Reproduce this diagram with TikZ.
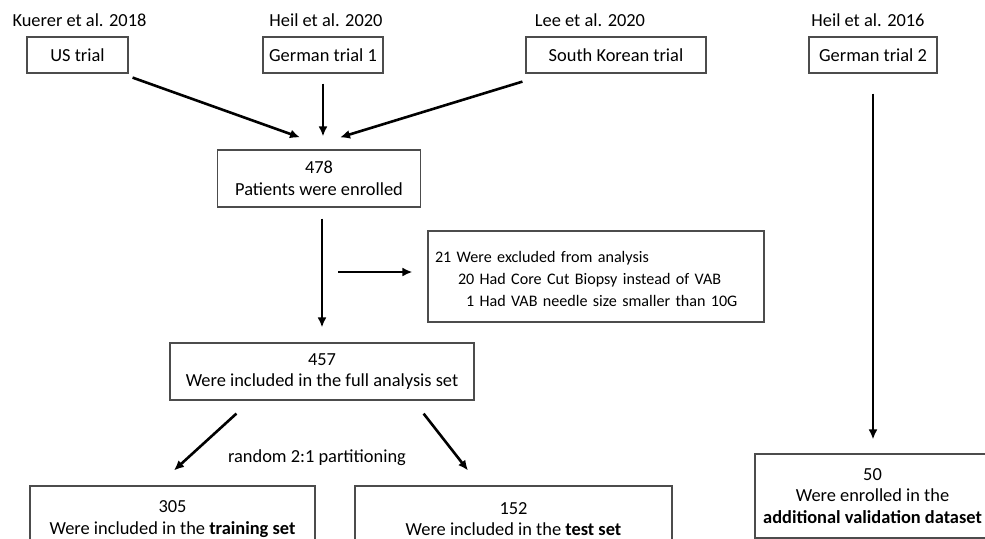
\documentclass[tikz,border=0pt]{standalone}
\usepackage{fontspec}
\setmainfont{Carlito}
\usetikzlibrary{arrows.meta,positioning,calc}

\begin{document}
\begin{tikzpicture}[x=0.5pt, y=-0.5pt, auto,
    font=\fontsize{9.2}{10.75}\selectfont,
    block/.style={rectangle, draw=black!70, line width=0.6pt, inner sep=0pt, align=center},
    source/.style={anchor=base},
    arrow/.style={-{Latex[length=5pt,width=4.5pt]}, line width=1.3pt}]

    \useasboundingbox (0,0) rectangle (985,538);
    \clip (0,0) rectangle (985,538);

    % trials
    \node[block, minimum width=50.5pt, minimum height=18pt] (us) at (77.5,55) {US trial};
    \node[block, minimum width=60pt, minimum height=18pt] (trial1) at (323,55) {German trial 1};
    \node[block, minimum width=90pt, minimum height=18pt] (korea) at (616,55) {South Korean trial};
    \node[block, minimum width=64pt, minimum height=18pt] (trial2) at (873,55) {German trial 2};

    \node[source] (usref) at (79.5,26) {Kuerer et al. 2018};
    \node[source] (trial1ref) at (326,26) {Heil et al. 2020};
    \node[source] (korearef) at (590,26) {Lee et al. 2020};
    \node[source] (trial2ref) at (868,26) {Heil et al. 2016};

    % flow
    \node[block, minimum width=101.5pt, minimum height=28.5pt] (enrolled) at (319,178.5) {478\\Patients were enrolled};
    \node[block, font=\fontsize{8.05}{11}\selectfont, text width=161pt, minimum height=45.5pt, align=left, inner xsep=3.5pt] (excluded) at (596,276.5)
        {\strut 21 Were excluded from analysis\\
         \hspace*{11.5pt}20 Had Core Cut Biopsy instead of VAB\\
         \hspace*{15.5pt}1 Had VAB needle size smaller than 10G};
    \node[block, minimum width=152pt, minimum height=28.5pt] (included) at (322,371.5) {457\\Were included in the full analysis set};
    \node (partition) at (317,458) {random 2:1 partitioning};
    \node[block, minimum width=142.5pt, minimum height=33pt] (training) at (172.5,519) {305\\Were included in the \textbf{training set}};
    \node[block, minimum width=158.5pt, minimum height=33pt] (test) at (513.5,519) {152\\Were included in the \textbf{test set}};
    \node[block, minimum width=117.5pt, minimum height=42pt] (valid) at (872.5,496) {50\\Were enrolled in the\\\textbf{additional validation dataset}};

    \coordinate (split) at (322,272);

    \draw[arrow] ($(us.south east)+(4,4)$) -- ($(enrolled.north)+(-19,-12)$);
    \draw[arrow] ($(trial1.south)+(0,10)$) -- ($(trial1.south |- enrolled.north)+(0,-13)$);
    \draw[arrow] ($(korea.south west)+(-3,8)$) -- ($(enrolled.north)+(21,-12)$);
    \draw[arrow, shorten <=5.5pt, shorten >=7.5pt] (enrolled.south -| included.north) -- (included.north);
    \draw[arrow, shorten <=8pt, shorten >=7.5pt] (split) -- (split -| excluded.west);
    \draw[arrow] ($(included.south west)+(67,13)$) -- ($(training.north)+(1.5,-15)$);
    \draw[arrow] ($(included.south east)+(-51,13)$) -- ($(test.north)+(-45.5,-15)$);
    \draw[arrow] ($(trial2.south)+(0,20)$) -- ($(trial2.south |- valid.north)+(0,-14)$);
\end{tikzpicture}
\end{document}
